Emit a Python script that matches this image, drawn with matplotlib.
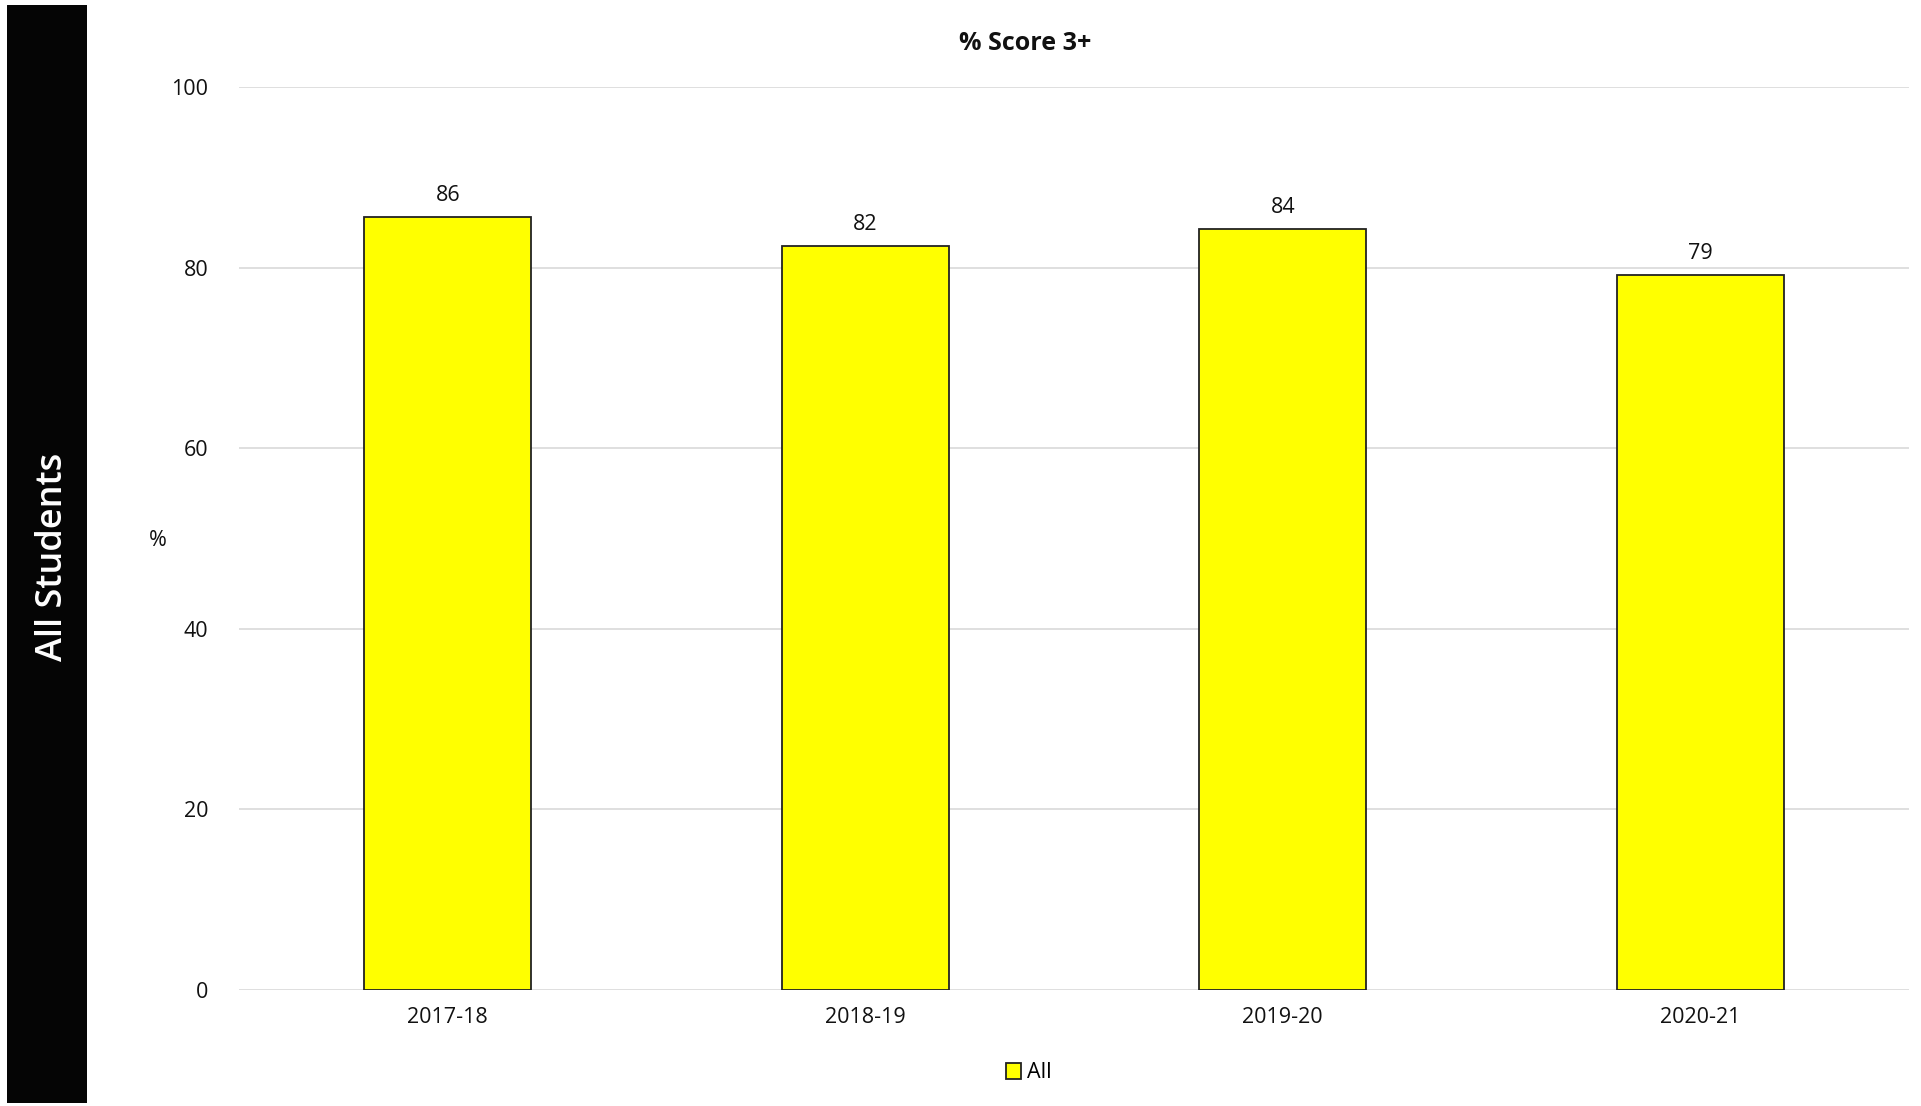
import matplotlib.pyplot as plt
from matplotlib.patches import Rectangle

years = ['2017-18', '2018-19', '2019-20', '2020-21']
score_all = [85.6, 82.4, 84.3, 79.2]
value_labels = ['86', '82', '84', '79']
yticks = [0, 20, 40, 60, 80, 100]

plt.rcParams['font.family'] = ['Open Sans', 'DejaVu Sans']

W, H = 1921, 1106
fig = plt.figure(figsize=(W / 100, H / 100), dpi=100)

# black side band with label
band = fig.add_axes([7 / W, 1 - 1103 / H, 80 / W, 1098 / H])
band.set_axis_off()
band.add_patch(Rectangle((0, 0), 1, 1, color='#050505', transform=band.transAxes))
fig.text(53 / W, 1 - 557 / H, 'All Students', rotation=90, color='white',
         fontsize=26, fontweight='semibold', ha='center', va='center')

# main chart
ax = fig.add_axes([239 / W, 1 - 990 / H, 1670 / W, 903 / H])
x = range(len(years))
bars = ax.bar(x, score_all, width=0.4, color='#FFFF00', edgecolor='#222222',
              linewidth=1.3, label='All', zorder=3)
for b, lab in zip(bars, value_labels):
    ax.annotate(lab, (b.get_x() + b.get_width() / 2, b.get_height()),
                xytext=(0, 8), textcoords='offset points',
                ha='center', va='bottom', fontsize=15.5, color='#111111')

ax.set_xlim(-0.5, 3.5)
ax.set_ylim(0, 100)
ax.set_yticks(yticks)
ax.set_xticks(list(x))
ax.set_xticklabels(years)
ax.tick_params(axis='both', length=0, labelsize=15.5, colors='#111111')
ax.tick_params(axis='y', pad=22)
ax.tick_params(axis='x', pad=12)
ax.grid(axis='y', color='#d9d9d9', linewidth=1.2, zorder=0)
for s in ax.spines.values():
    s.set_visible(False)

fig.text(158 / W, 1 - 540 / H, '%', fontsize=15.5, ha='center', va='center', color='#111111')
fig.text(1025 / W, 1 - 43 / H, '% Score 3+', fontsize=18, fontweight='bold',
         ha='center', va='center', color='#111111')

ax.legend(loc='center', bbox_to_anchor=(1029 / W, 1 - 1073 / H),
          bbox_transform=fig.transFigure, frameon=False, fontsize=15.5,
          handlelength=0.7, handleheight=0.7, handletextpad=0.3)

fig.savefig('out.png', dpi=100, facecolor='white')
